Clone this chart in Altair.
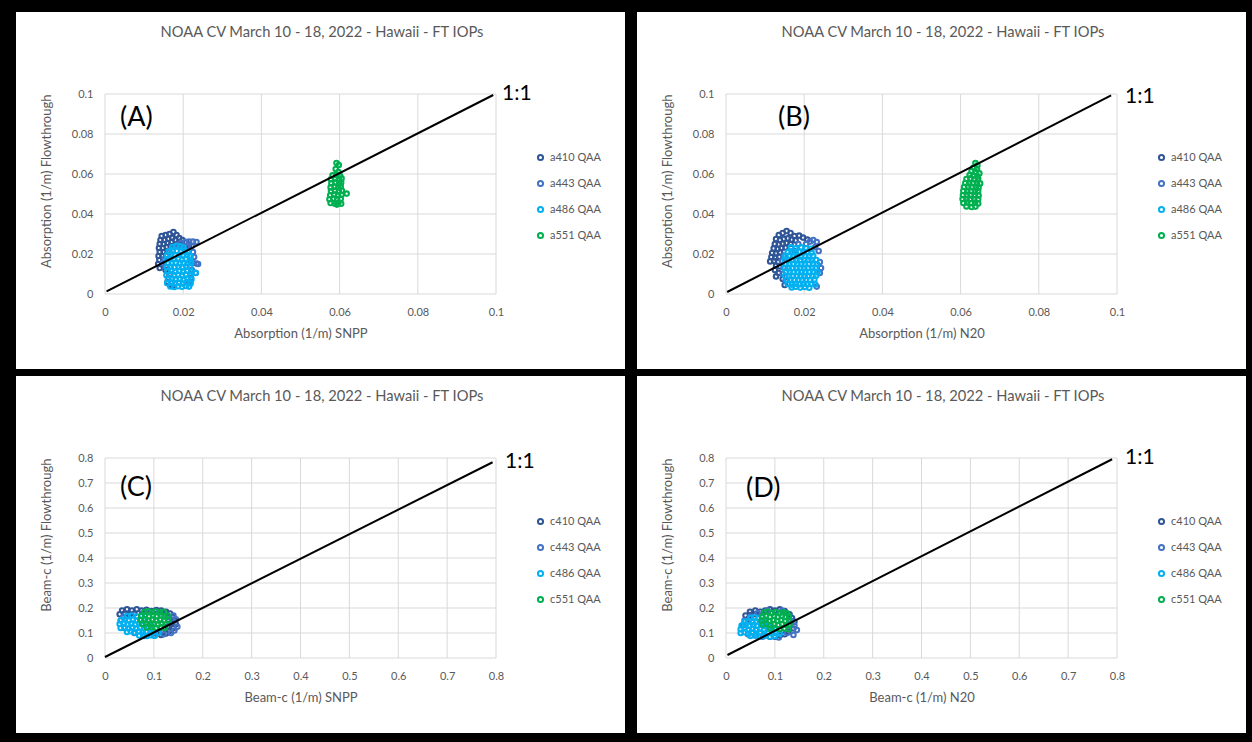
import altair as alt
import pandas as pd

TITLE = "NOAA CV March 10 - 18, 2022 - Hawaii - FT IOPs"
COLORS = ["#2F5597", "#4472C4", "#00B0F0", "#00B050"]
FONT = "Lato"
GRAY = "#595959"
GRID = "#d9d9d9"

ABS_TICKS = [0, 0.02, 0.04, 0.06, 0.08, 0.1]
BEAM_TICKS = [0, 0.1, 0.2, 0.3, 0.4, 0.5, 0.6, 0.7, 0.8]

A_NAMES = ["a410 QAA", "a443 QAA", "a486 QAA", "a551 QAA"]
C_NAMES = ["c410 QAA", "c443 QAA", "c486 QAA", "c551 QAA"]

# ---------------- Panel A : Absorption, SNPP ----------------
A410 = [(0.0145,0.029),(0.0155,0.0295),(0.0165,0.030),(0.0175,0.031),(0.0183,0.0295),(0.019,0.028),
        (0.0198,0.027),(0.0208,0.026),(0.0142,0.027),(0.0152,0.027),(0.0162,0.0275),(0.0172,0.028),
        (0.018,0.027),(0.014,0.025),(0.015,0.025),(0.016,0.0255),(0.017,0.026),(0.0188,0.0255),
        (0.0138,0.023),(0.0148,0.023),(0.0158,0.0235),(0.0168,0.024),(0.0178,0.024),(0.014,0.021),
        (0.015,0.021),(0.016,0.0215),(0.0137,0.019),(0.0147,0.019),(0.0157,0.0195),(0.0139,0.017),
        (0.0149,0.017),(0.0136,0.015),(0.0146,0.0148),(0.014,0.013),(0.0155,0.012),(0.0165,0.010),
        (0.016,0.006),(0.0172,0.004),(0.0205,0.0235),(0.0215,0.0245)]
A443 = [(0.0195,0.0255),(0.0205,0.026),(0.0215,0.0262),(0.0225,0.0262),(0.0234,0.026),(0.0222,0.024),
        (0.021,0.0235),(0.0198,0.024),(0.0185,0.0245),(0.0175,0.0235),(0.0225,0.021),(0.0228,0.0185),
        (0.0234,0.0152),(0.0238,0.015),(0.0225,0.0155),(0.0232,0.0105),(0.0222,0.012),(0.0218,0.0165),
        (0.0152,0.0175),(0.0148,0.0155),(0.0155,0.0135),(0.0158,0.019),(0.0165,0.021),(0.022,0.008),
        (0.0215,0.006),(0.017,0.0055),(0.0162,0.008)]
A486 = [(0.0172,0.0235),(0.0182,0.024),(0.0192,0.0238),(0.0201,0.0232),
        (0.0163,0.0213),(0.0173,0.0218),(0.0184,0.0215),(0.0194,0.0212),(0.0204,0.0216),(0.0213,0.0208),
        (0.0159,0.0194),(0.0169,0.0197),(0.0179,0.0193),(0.019,0.0196),(0.02,0.0192),(0.021,0.0195),(0.0219,0.0188),
        (0.0158,0.0173),(0.0167,0.0177),(0.0177,0.0174),(0.0187,0.0178),(0.0197,0.0172),(0.0207,0.0176),(0.0217,0.0171),
        (0.0161,0.0156),(0.0171,0.0153),(0.0181,0.0157),(0.0191,0.0152),(0.0201,0.0156),(0.0211,0.0153),(0.022,0.0157),
        (0.0158,0.0134),(0.0168,0.0137),(0.0178,0.0133),(0.0188,0.0136),(0.0198,0.0132),(0.0208,0.0137),(0.0218,0.0133),
        (0.016,0.0114),(0.017,0.0117),(0.018,0.0112),(0.019,0.0116),(0.02,0.0113),(0.021,0.0117),(0.0221,0.0112),(0.0232,0.0106),
        (0.0157,0.0094),(0.0167,0.0097),(0.0177,0.0093),(0.0187,0.0096),(0.0197,0.0092),(0.0207,0.0097),(0.0218,0.0093),
        (0.0161,0.0074),(0.0171,0.0077),(0.0181,0.0073),(0.0191,0.0076),(0.0201,0.0072),(0.0211,0.0077),(0.0221,0.0073),
        (0.0159,0.0054),(0.0169,0.0057),(0.0179,0.0053),(0.0189,0.0056),(0.0199,0.0052),(0.0209,0.0056),(0.0219,0.0053),
        (0.0167,0.0038),(0.0177,0.0035),(0.0187,0.0039),(0.0197,0.0036),(0.0207,0.004),(0.0215,0.0037)]
A551 = [(0.0592,0.0655),(0.0598,0.0645),(0.059,0.0625),(0.0597,0.061),
        (0.0582,0.0593),(0.0592,0.0597),(0.0601,0.0591),
        (0.0578,0.0574),(0.0588,0.0577),(0.0598,0.0573),(0.0605,0.0578),
        (0.0579,0.0554),(0.0589,0.0557),(0.0599,0.0553),(0.0604,0.0558),
        (0.0577,0.0533),(0.0587,0.0537),(0.0597,0.0534),(0.0603,0.0538),
        (0.0578,0.0514),(0.0588,0.0517),(0.0598,0.0513),(0.0606,0.0516),
        (0.0576,0.0494),(0.0586,0.0497),(0.0596,0.0493),(0.0605,0.0496),(0.0618,0.0502),
        (0.0574,0.0474),(0.0584,0.0477),(0.0594,0.0473),(0.0603,0.0476),
        (0.0577,0.0455),(0.0587,0.0452),(0.0597,0.0456),(0.0604,0.0451),(0.0593,0.0447)]

# ---------------- Panel B : Absorption, N20 ----------------
B410 = [(0.0135,0.0295),(0.0145,0.0305),(0.0155,0.0315),(0.0165,0.0305),(0.0175,0.029),(0.0187,0.0292),
        (0.0197,0.0282),(0.0208,0.0272),(0.0128,0.0275),(0.0138,0.027),(0.0148,0.0275),(0.0158,0.0278),
        (0.0168,0.0272),(0.0178,0.0268),(0.0125,0.025),(0.0135,0.0248),(0.0145,0.0252),(0.0155,0.0255),
        (0.0165,0.025),(0.0122,0.0228),(0.0132,0.0225),(0.0142,0.023),(0.0152,0.0232),(0.0118,0.0205),
        (0.0128,0.0203),(0.0138,0.0208),(0.0116,0.0185),(0.0126,0.0182),(0.0136,0.0186),(0.0113,0.0163),
        (0.0123,0.0165),(0.0133,0.016),(0.0128,0.0142),(0.0138,0.0138),(0.0125,0.012),(0.0135,0.0105),
        (0.0128,0.0088),(0.0145,0.0075),(0.015,0.0045)]
B443 = [(0.0205,0.025),(0.0215,0.0262),(0.0223,0.027),(0.0232,0.026),(0.0228,0.0235),(0.0237,0.0215),
        (0.024,0.016),(0.0243,0.013),(0.024,0.0105),(0.0232,0.0037),(0.0148,0.0192),(0.0143,0.0165),
        (0.0147,0.0132),(0.0145,0.01),(0.0152,0.0065),(0.0175,0.0215),(0.0185,0.025)]
B486 = [(0.0166,0.0233),(0.0178,0.0228),(0.0192,0.0233),(0.0205,0.0229),(0.0217,0.0226),
        (0.0158,0.0209),(0.0168,0.0213),(0.0178,0.0208),(0.0188,0.0212),(0.0198,0.0207),(0.0208,0.0211),(0.0219,0.0207),
        (0.0152,0.0188),(0.0162,0.0192),(0.0172,0.0187),(0.0182,0.0191),(0.0192,0.0186),(0.0202,0.0191),(0.0212,0.0187),(0.0223,0.0191),
        (0.015,0.0171),(0.016,0.0168),(0.017,0.0172),(0.018,0.0167),(0.019,0.0171),(0.02,0.0168),(0.021,0.0172),(0.022,0.0167),(0.0231,0.017),
        (0.0152,0.015),(0.0162,0.0153),(0.0172,0.0149),(0.0182,0.0152),(0.0192,0.0148),(0.0202,0.0152),(0.0212,0.0149),(0.0222,0.0153),(0.0233,0.0148),
        (0.015,0.013),(0.016,0.0127),(0.017,0.0131),(0.018,0.0128),(0.019,0.0132),(0.02,0.0127),(0.021,0.0131),(0.022,0.0128),(0.023,0.0132),
        (0.0153,0.011),(0.0163,0.0113),(0.0173,0.0109),(0.0183,0.0112),(0.0193,0.0108),(0.0203,0.0112),(0.0213,0.0109),(0.0223,0.0113),(0.0234,0.0108),
        (0.0151,0.009),(0.0161,0.0087),(0.0171,0.0091),(0.0181,0.0088),(0.0191,0.0092),(0.0201,0.0087),(0.0211,0.0091),(0.0221,0.0088),(0.0231,0.0092),
        (0.0155,0.007),(0.0165,0.0073),(0.0175,0.0069),(0.0185,0.0072),(0.0195,0.0068),(0.0205,0.0072),(0.0215,0.0069),(0.0226,0.0073),
        (0.0158,0.005),(0.0168,0.0047),(0.0178,0.0051),(0.0188,0.0048),(0.0198,0.0052),(0.0208,0.0047),(0.0218,0.0051),(0.0228,0.0048),
        (0.0168,0.0033),(0.0178,0.0036),(0.019,0.0032),(0.0202,0.0035),(0.0213,0.0031)]
B551 = [(0.0638,0.0655),(0.0643,0.0643),(0.0633,0.0632),(0.0642,0.0625),(0.0628,0.0615),(0.0638,0.061),(0.0648,0.0603),
        (0.0623,0.0595),(0.0633,0.0592),(0.0643,0.0588),
        (0.0615,0.0575),(0.0625,0.0578),(0.0635,0.0573),(0.0645,0.0577),(0.065,0.0553),
        (0.0612,0.0555),(0.0622,0.0552),(0.0632,0.0556),(0.0642,0.0551),
        (0.0609,0.0535),(0.0619,0.0538),(0.0629,0.0533),(0.0639,0.0537),(0.0646,0.0532),
        (0.0607,0.0515),(0.0617,0.0512),(0.0627,0.0516),(0.0637,0.0511),(0.0645,0.0515),
        (0.0606,0.0494),(0.0616,0.0497),(0.0626,0.0493),(0.0636,0.0496),(0.0646,0.0492),
        (0.0605,0.0475),(0.0615,0.0472),(0.0625,0.0476),(0.0635,0.0471),(0.0645,0.0475),
        (0.0607,0.0455),(0.0617,0.0458),(0.0627,0.0454),(0.0637,0.0457),(0.0645,0.0453),
        (0.0615,0.0438),(0.0628,0.0435),(0.0638,0.0437)]

# ---------------- Panel C : Beam-c, SNPP ----------------
C410 = [(0.035,0.19),(0.045,0.195),(0.055,0.19),(0.065,0.195),(0.075,0.19),(0.085,0.193),(0.095,0.188),
        (0.105,0.192),(0.115,0.19),(0.125,0.185),(0.133,0.178),(0.138,0.165),(0.142,0.15),(0.145,0.135),
        (0.14,0.12),(0.132,0.108),(0.125,0.098),(0.115,0.092),(0.03,0.175),(0.04,0.178),(0.05,0.175),
        (0.06,0.178),(0.128,0.165),(0.135,0.14),(0.128,0.125),(0.118,0.105),(0.105,0.1)]
C443 = [(0.14,0.17),(0.145,0.155),(0.148,0.125),(0.142,0.11),(0.135,0.1),(0.12,0.095),(0.1,0.09),
        (0.08,0.088),(0.06,0.1),(0.04,0.12),(0.032,0.15),(0.038,0.165),(0.09,0.185),(0.11,0.182),(0.13,0.15)]
C486 = [(0.045,0.168),(0.055,0.17),(0.065,0.166),(0.075,0.169),
        (0.033,0.152),(0.041,0.155),(0.049,0.15),(0.057,0.154),(0.065,0.15),(0.073,0.153),(0.081,0.149),
        (0.03,0.136),(0.038,0.139),(0.046,0.134),(0.054,0.138),(0.062,0.134),(0.07,0.138),(0.078,0.134),(0.086,0.137),(0.094,0.133),
        (0.032,0.12),(0.04,0.123),(0.048,0.118),(0.056,0.122),(0.064,0.118),(0.072,0.122),(0.08,0.118),(0.088,0.121),(0.096,0.117),(0.104,0.12),
        (0.045,0.104),(0.053,0.107),(0.061,0.102),(0.069,0.106),(0.077,0.102),(0.085,0.106),(0.093,0.102),(0.101,0.105),(0.109,0.101),
        (0.07,0.09),(0.078,0.092),(0.086,0.088),(0.094,0.091),(0.102,0.089)]
C551 = [(0.08,0.184),(0.088,0.187),(0.096,0.183),(0.104,0.186),(0.112,0.182),(0.12,0.185),
        (0.074,0.168),(0.082,0.171),(0.09,0.166),(0.098,0.17),(0.106,0.166),(0.114,0.17),(0.122,0.166),(0.128,0.17),
        (0.073,0.152),(0.081,0.155),(0.089,0.15),(0.097,0.154),(0.105,0.15),(0.113,0.154),(0.121,0.15),(0.129,0.153),
        (0.076,0.136),(0.084,0.139),(0.092,0.134),(0.1,0.138),(0.108,0.134),(0.116,0.138),(0.124,0.134),
        (0.085,0.122),(0.095,0.124),(0.105,0.12),(0.115,0.123),(0.123,0.12)]

# ---------------- Panel D : Beam-c, N20 ----------------
D410 = [(0.049,0.185),(0.06,0.19),(0.07,0.185),(0.08,0.19),(0.09,0.195),(0.1,0.19),(0.11,0.195),(0.12,0.188),
        (0.04,0.17),(0.05,0.172),(0.06,0.175),(0.045,0.155),(0.13,0.175),(0.135,0.16),(0.14,0.145),(0.13,0.13),
        (0.138,0.118),(0.128,0.105),(0.12,0.095),(0.11,0.09),(0.1,0.085),(0.09,0.085),(0.08,0.09)]
D443 = [(0.145,0.112),(0.138,0.092),(0.14,0.13),(0.132,0.15),(0.115,0.19),(0.085,0.19),(0.065,0.18),
        (0.05,0.165),(0.038,0.15),(0.035,0.13),(0.045,0.095),(0.06,0.09),(0.075,0.085),(0.125,0.1),(0.108,0.082)]
D486 = [(0.05,0.16),(0.058,0.163),(0.066,0.158),(0.074,0.162),
        (0.038,0.145),(0.046,0.148),(0.054,0.143),(0.062,0.147),(0.07,0.143),(0.078,0.147),
        (0.032,0.13),(0.04,0.133),(0.048,0.128),(0.056,0.132),(0.064,0.128),(0.072,0.132),(0.08,0.128),(0.088,0.131),
        (0.03,0.115),(0.038,0.118),(0.046,0.113),(0.054,0.117),(0.062,0.113),(0.07,0.117),(0.078,0.113),(0.086,0.116),(0.094,0.112),(0.102,0.115),
        (0.03,0.1),(0.038,0.103),(0.046,0.098),(0.054,0.102),(0.062,0.098),(0.07,0.102),(0.078,0.098),(0.086,0.101),(0.094,0.097),(0.102,0.1),(0.11,0.097),
        (0.05,0.088),(0.06,0.09),(0.07,0.086),(0.08,0.089),(0.09,0.085),(0.1,0.088)]
D551 = [(0.078,0.182),(0.086,0.185),(0.094,0.18),(0.102,0.184),(0.11,0.18),(0.118,0.183),(0.125,0.179),
        (0.074,0.166),(0.082,0.169),(0.09,0.164),(0.098,0.168),(0.106,0.164),(0.114,0.168),(0.122,0.164),(0.129,0.167),
        (0.073,0.15),(0.081,0.153),(0.089,0.148),(0.097,0.152),(0.105,0.148),(0.113,0.152),(0.121,0.148),(0.129,0.151),
        (0.075,0.134),(0.083,0.137),(0.091,0.132),(0.099,0.136),(0.107,0.132),(0.115,0.136),(0.123,0.132),(0.13,0.135),
        (0.09,0.118),(0.1,0.12),(0.11,0.116),(0.12,0.119),(0.128,0.115)]

# hand-drawn 1:1 lines (end points)
LINE_A = [(0.0004, 0.0013), (0.0993, 0.0995)]
LINE_B = [(0.0003, 0.0010), (0.0985, 0.0993)]
LINE_C = [(0.0, 0.004), (0.793, 0.783)]
LINE_D = [(0.003, 0.012), (0.79, 0.795)]

PW, PH = 391, 200


def panel(series, names, ticks, xtitle, ytitle, letter, letter_pos, one_pos, line):
    rows = []
    for name, pts in zip(names, series):
        for x, y in pts:
            rows.append({"x": x, "y": y, "s": name})
    df = pd.DataFrame(rows)
    dom = [ticks[0], ticks[-1]]
    xs = alt.Scale(domain=dom, nice=False, zero=False)
    ys = alt.Scale(domain=dom, nice=False, zero=False)
    common = dict(values=ticks, format="~g", grid=False, domain=False, ticks=False,
                  labelFont=FONT, labelFontSize=11, labelColor=GRAY, labelPadding=12,
                  labelFlush=False, labelOverlap=False,
                  titleFont=FONT, titleFontSize=13, titleColor=GRAY, titleFontWeight="normal",
                  zindex=1)
    xaxis = alt.Axis(title=xtitle, titleBaseline="middle", titleY=39, **common)
    yaxis = alt.Axis(title=ytitle, titleBaseline="middle", titleX=-59, titleAnchor="end", **common)

    one = alt.Data(values=[{}])
    bg = alt.Chart(one).mark_rect(color="white").encode(
        x=alt.value(-89), x2=alt.value(520), y=alt.value(-82), y2=alt.value(275))
    tdf = pd.DataFrame({"t": ticks})
    vgrid = alt.Chart(tdf).mark_rule(color=GRID, strokeWidth=1).encode(
        x=alt.X("t:Q", scale=xs, axis=xaxis))
    hgrid = alt.Chart(tdf).mark_rule(color=GRID, strokeWidth=1).encode(
        y=alt.Y("t:Q", scale=ys, axis=yaxis))
    pts = alt.Chart(df).mark_point(filled=False, size=20, strokeWidth=2.1, opacity=1).encode(
        x=alt.X("x:Q", scale=xs, axis=xaxis),
        y=alt.Y("y:Q", scale=ys, axis=yaxis),
        color=alt.Color("s:N", scale=alt.Scale(domain=names, range=COLORS),
                        legend=alt.Legend(orient="none", legendX=430, legendY=58, title=None,
                                          symbolType="circle", symbolSize=26, symbolStrokeWidth=2,
                                          labelFont=FONT, labelFontSize=11, labelColor=GRAY,
                                          rowPadding=11, padding=0, zindex=1)))
    ldf = pd.DataFrame(line, columns=["x", "y"])
    ln = alt.Chart(ldf).mark_line(color="black", strokeWidth=2).encode(
        x=alt.X("x:Q", scale=xs, axis=xaxis), y=alt.Y("y:Q", scale=ys, axis=yaxis))
    ttl = alt.Chart(one).mark_text(text=TITLE, font=FONT, fontSize=14.7, color=GRAY,
                                   align="center", baseline="middle").encode(
        x=alt.value(217), y=alt.value(-61))
    let = alt.Chart(one).mark_text(text=letter, font=FONT, fontSize=27, color="black",
                                   align="left", baseline="middle").encode(
        x=alt.value(letter_pos[0]), y=alt.value(letter_pos[1]))
    onet = alt.Chart(one).mark_text(text="1:1", font=FONT, fontSize=21, color="black",
                                    align="left", baseline="middle").encode(
        x=alt.value(one_pos[0]), y=alt.value(one_pos[1]))
    return alt.layer(bg, vgrid, hgrid, pts, ln, ttl, let, onet).properties(width=PW, height=PH)


pA = panel([A410, A443, A486, A551], A_NAMES, ABS_TICKS, "Absorption (1/m) SNPP",
           "Absorption (1/m) Flowthrough", "(A)", (15, 24), (397, 0), LINE_A)
pB = panel([B410, B443, B486, B551], A_NAMES, ABS_TICKS, "Absorption (1/m) N20",
           "Absorption (1/m) Flowthrough", "(B)", (52, 24), (399, 3), LINE_B)
pC = panel([C410, C443, C486, C551], C_NAMES, BEAM_TICKS, "Beam-c (1/m) SNPP",
           "Beam-c (1/m) Flowthrough", "(C)", (15, 30), (400, 4), LINE_C)
pD = panel([D410, D443, D486, D551], C_NAMES, BEAM_TICKS, "Beam-c (1/m) N20",
           "Beam-c (1/m) Flowthrough", "(D)", (20, 31), (399, 0), LINE_D)


def indep(c):
    return c.resolve_scale(x="independent", y="independent", color="independent").resolve_legend(
        color="independent")


top = indep(alt.hconcat(pA, pB, spacing=12))
bot = indep(alt.hconcat(pC, pD, spacing=12))
chart = indep(alt.vconcat(top, bot, spacing=7)).properties(
    background="black",
    padding={"left": 16, "top": 12, "right": 6, "bottom": 9},
).configure_view(stroke=None)

chart.save("out.html", embed_options={"renderer": "svg", "actions": False})
